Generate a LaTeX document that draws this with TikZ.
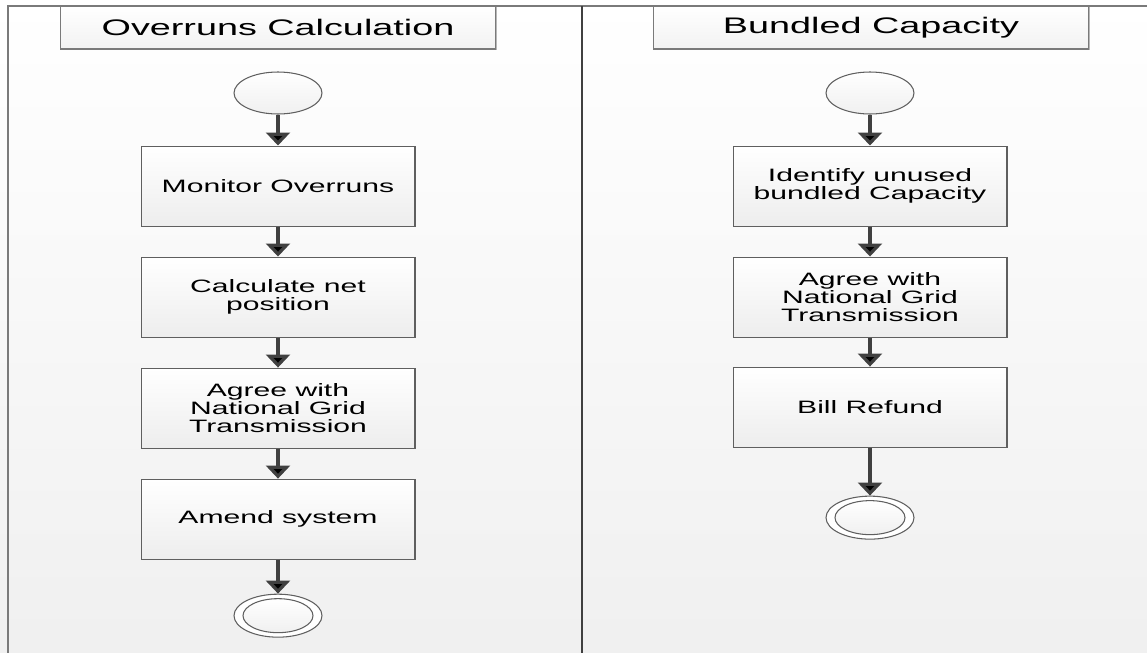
\documentclass[tikz,border=0pt]{standalone}
\usepackage{fontspec}
\setmainfont{Liberation Sans}
\newfontfamily\widesans[FakeStretch=1.68]{Liberation Sans}
\usetikzlibrary{positioning,arrows.meta,shapes.geometric,shadows}
\definecolor{edgegray}{HTML}{5F5F5F}
\definecolor{flowgray}{HTML}{404040}
\definecolor{lanegray}{HTML}{7A7A7A}
\tikzset{
  lanehead/.style={rectangle, draw=lanegray, line width=0.6pt, top color=white, bottom color=gray!10,
    minimum width=8.7cm, minimum height=0.86cm, inner sep=0pt,
    font=\widesans\fontsize{12.8}{14}\selectfont,
    drop shadow={shadow xshift=0.8pt, shadow yshift=-0.8pt, fill=gray!80, opacity=0.7}},
  activity/.style={rectangle, draw=edgegray, line width=0.6pt, top color=white, bottom color=gray!14,
    minimum width=5.48cm, minimum height=1.6cm, inner sep=0pt, align=center,
    font=\widesans\fontsize{10.2}{10.4}\selectfont},
  startst/.style={ellipse, draw=edgegray, line width=0.6pt, top color=white, bottom color=gray!12,
    minimum width=1.76cm, minimum height=0.84cm, inner sep=0pt},
  endst/.style={ellipse, draw=edgegray, line width=0.6pt, fill=white,
    minimum width=1.76cm, minimum height=0.86cm, inner sep=0pt},
  endin/.style={ellipse, draw=edgegray, line width=0.6pt, top color=white, bottom color=gray!12,
    minimum width=1.4cm, minimum height=0.68cm, inner sep=0pt},
  laneline/.style={draw=lanegray, line width=0.7pt},
  divider/.style={draw=flowgray, line width=1.2pt},
  flow/.style={draw=flowgray, line width=2.6pt, -{Triangle[width=13.5pt,length=7.4pt]}},
}
\begin{document}
\begin{tikzpicture}[x=0.02cm,y=-0.02cm]
  \useasboundingbox (0,0) rectangle (1147,653);
  \fill[top color=white, bottom color=gray!12] (0,0) rectangle (1147,653);
  % swimlanes
  \draw[laneline] (8,653) -- (8,6) -- (1147,6);
  \draw[divider] (582,6) -- (582,653);
  \node[lanehead] (HL) at (278,27.5) {Overruns Calculation};
  \node[lanehead] (HR) at (871,27.5) {Bundled Capacity};
  % left lane
  \node[startst] (SL) at (278,93) {};
  \node[activity,below=0.62cm of SL] (L1) {Monitor Overruns};
  \node[activity,below=0.6cm of L1] (L2) {Calculate net\\position};
  \node[activity,below=0.6cm of L2] (L3) {Agree with\\National Grid\\Transmission};
  \node[activity,below=0.6cm of L3] (L4) {Amend system};
  \node[endst,below=0.68cm of L4] (EL) {};
  \node[endin] (ELi) at (EL.center) {};
  % right lane
  \node[startst] (SR) at (870,93) {};
  \node[activity,below=0.62cm of SR] (R1) {Identify unused\\bundled Capacity};
  \node[activity,below=0.6cm of R1] (R2) {Agree with\\National Grid\\Transmission};
  \node[activity,below=0.58cm of R2] (R3) {Bill Refund};
  \node[endst,below=0.96cm of R3] (ER) {};
  \node[endin] (ERi) at (ER.center) {};
  \path[flow]
    (SL) edge (L1)
    (L1) edge (L2)
    (L2) edge (L3)
    (L3) edge (L4)
    (L4) edge (EL)
    (SR) edge (R1)
    (R1) edge (R2)
    (R2) edge (R3)
    (R3) edge (ER);
\end{tikzpicture}
\end{document}
